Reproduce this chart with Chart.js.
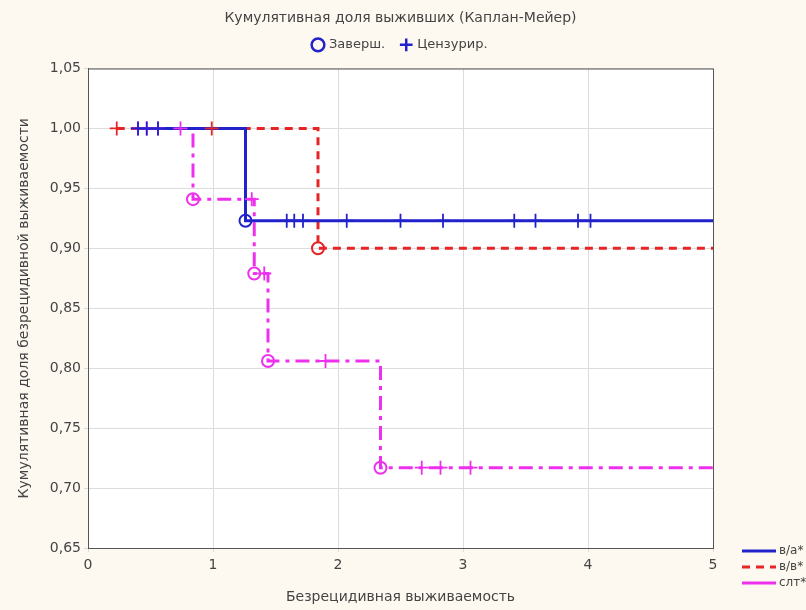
<!DOCTYPE html>
<html>
<head>
<meta charset="utf-8">
<script src="https://cdn.jsdelivr.net/npm/chart.js@4.4.1/dist/chart.umd.min.js"></script>
<style>
  body { margin: 0; background: #fdf9f0; }
  #wrap { width: 806px; height: 610px; }
</style>
</head>
<body>
<div id="wrap"><canvas id="km" width="806" height="610"></canvas></div>
<script>
// группы
var groups = ["в/а*", "в/в*", "слт*"];
var groupColors = ["#2222cc", "#e52525", "#ee30ee"];

// в/а*  (время начала, события, цензурированные)
var vaStart = 0.40;
var vaEventT = [1.26];
var vaEventS = [0.923];
var vaCensT = [0.40, 0.47, 0.56, 1.59, 1.65, 1.72, 2.07, 2.50, 2.84, 3.41, 3.58, 3.92, 4.02];

// в/в*
var vvStart = 0.23;
var vvEventT = [1.84];
var vvEventS = [0.900];
var vvCensT = [0.23, 0.99];

// слт*
var sltStart = 0.40;
var sltEventT = [0.84, 1.33, 1.44, 2.34];
var sltEventS = [0.941, 0.879, 0.806, 0.717];
var sltCensT = [0.40, 0.47, 0.56, 0.74, 1.31, 1.41, 1.90, 2.67, 2.82, 3.06];

var tEnd = 5;
var yTicks = [0.65, 0.70, 0.75, 0.80, 0.85, 0.90, 0.95, 1.00, 1.05];

function survAt(t, evT, evS) {
    var s = 1;
    for (var i = 0; i < evT.length; i++) {
        if (evT[i] <= t) s = evS[i];
    }
    return s;
}

function stepLine(start, evT, evS) {
    var pts = [{x: start, y: 1}];
    for (var i = 0; i < evT.length; i++) pts.push({x: evT[i], y: evS[i]});
    pts.push({x: tEnd, y: evS[evS.length - 1]});
    return pts;
}

function pts(ts, ss) {
    return ts.map(function(t, i){ return {x: t, y: ss[i]}; });
}

function censPts(ts, evT, evS) {
    return ts.map(function(t){ return {x: t, y: survAt(t, evT, evS)}; });
}

var dashes = [[], [8, 6], [14, 6, 4, 6]];
var all = [
    [vaStart, vaEventT, vaEventS, vaCensT],
    [vvStart, vvEventT, vvEventS, vvCensT],
    [sltStart, sltEventT, sltEventS, sltCensT]
];

var datasets = [];
all.forEach(function(g, k){
    datasets.push({
        type: 'line', label: groups[k],
        data: stepLine(g[0], g[1], g[2]),
        stepped: 'before', borderColor: groupColors[k], borderWidth: 3,
        borderDash: dashes[k], pointRadius: 0, fill: false, order: 3
    });
    datasets.push({
        type: 'scatter', label: groups[k] + ' cens',
        data: censPts(g[3], g[1], g[2]),
        pointStyle: 'cross', pointRadius: 7, borderColor: groupColors[k],
        pointBorderWidth: 1.8, order: 2
    });
    datasets.push({
        type: 'scatter', label: groups[k] + ' ev',
        data: pts(g[1], g[2]),
        pointStyle: 'circle', pointRadius: 6, borderColor: groupColors[k],
        backgroundColor: 'rgba(255,255,255,0)', pointBorderWidth: 2, order: 1
    });
});
// только для легенды сверху
datasets.push({ type: 'scatter', label: 'Заверш.', data: [], pointStyle: 'circle',
    borderColor: '#2222cc', backgroundColor: 'rgba(255,255,255,0)', borderWidth: 2.5 });
datasets.push({ type: 'scatter', label: 'Цензурир.', data: [], pointStyle: 'cross',
    borderColor: '#2222cc', borderWidth: 2.5 });

var bgPlugin = {
    id: 'bg',
    beforeDraw: function(chart) {
        var c = chart.ctx, a = chart.chartArea;
        c.save();
        c.fillStyle = '#fdf9f0';
        c.fillRect(0, 0, chart.width, chart.height);
        c.fillStyle = '#ffffff';
        c.fillRect(a.left, a.top, a.right - a.left, a.bottom - a.top);
        c.restore();
    },
    afterDraw: function(chart) {
        var c = chart.ctx, a = chart.chartArea;
        c.save();
        // рамка графика
        c.strokeStyle = '#555';
        c.lineWidth = 1;
        c.strokeRect(a.left + 0.5, a.top + 0.5, a.right - a.left, a.bottom - a.top);
        // легенда групп справа внизу
        c.font = '12px "DejaVu Sans"';
        c.textBaseline = 'middle';
        for (var k = 0; k < groups.length; k++) {
            var y = 551 + k * 16;
            c.strokeStyle = groupColors[k];
            c.lineWidth = 3;
            c.setLineDash(k == 1 ? [8, 6] : []);
            c.beginPath();
            c.moveTo(742, y);
            c.lineTo(776, y);
            c.stroke();
            c.fillStyle = '#444';
            c.fillText(groups[k], 779, y);
        }
        c.restore();
    }
};

var ctx = document.getElementById('km');
var chart = new Chart(ctx, {
    type: 'scatter',
    data: { datasets: datasets },
    plugins: [bgPlugin],
    options: {
        responsive: false,
        animation: false,
        layout: { padding: { left: 12, right: 93, top: 0, bottom: 4 } },
        plugins: {
            title: {
                display: true,
                fullSize: false,
                text: 'Кумулятивная доля выживших (Каплан-Мейер)',
                color: '#444',
                font: { family: 'DejaVu Sans', size: 14, weight: 'normal' },
                padding: { top: 10, bottom: -5 }
            },
            // пустой отступ между легендой и графиком
            subtitle: {
                display: true,
                fullSize: false,
                weight: 500,
                text: '',
                font: { size: 1 },
                padding: { top: 0, bottom: 6 }
            },
            legend: {
                display: true,
                fullSize: false,
                position: 'top',
                labels: {
                    usePointStyle: true,
                    color: '#444',
                    boxWidth: 9, boxHeight: 9,
                    padding: 16.5,
                    font: { family: 'DejaVu Sans', size: 13 },
                    filter: function(item) {
                        return item.text == 'Заверш.' || item.text == 'Цензурир.';
                    }
                }
            },
            tooltip: { enabled: false }
        },
        scales: {
            x: {
                type: 'linear', min: 0, max: 5,
                afterFit: function(scale) { scale.height = 58; },
                ticks: { stepSize: 1, padding: 5, color: '#444', font: { family: 'DejaVu Sans', size: 14 } },
                grid: { color: '#dcdcdc', tickLength: 4 },
                border: { color: '#555', width: 1 },
                title: { display: true, text: 'Безрецидивная выживаемость', color: '#444',
                    padding: { top: 4, bottom: 0 },
                    font: { family: 'DejaVu Sans', size: 14 } }
            },
            y: {
                min: 0.65, max: 1.05,
                afterBuildTicks: function(scale) {
                    scale.ticks = yTicks.map(function(v){ return {value: v}; });
                },
                afterFit: function(scale) { scale.width = 76; },
                ticks: {
                    color: '#444', font: { family: 'DejaVu Sans', size: 14 },
                    callback: function(v) { return v.toFixed(2).replace('.', ','); }
                },
                grid: { color: '#dcdcdc', tickLength: 4 },
                border: { color: '#555', width: 1 },
                title: { display: true, text: 'Кумулятивная доля безрецидивной выживаемости',
                    color: '#444', font: { family: 'DejaVu Sans', size: 14 } }
            }
        }
    }
});
</script>
</body>
</html>
